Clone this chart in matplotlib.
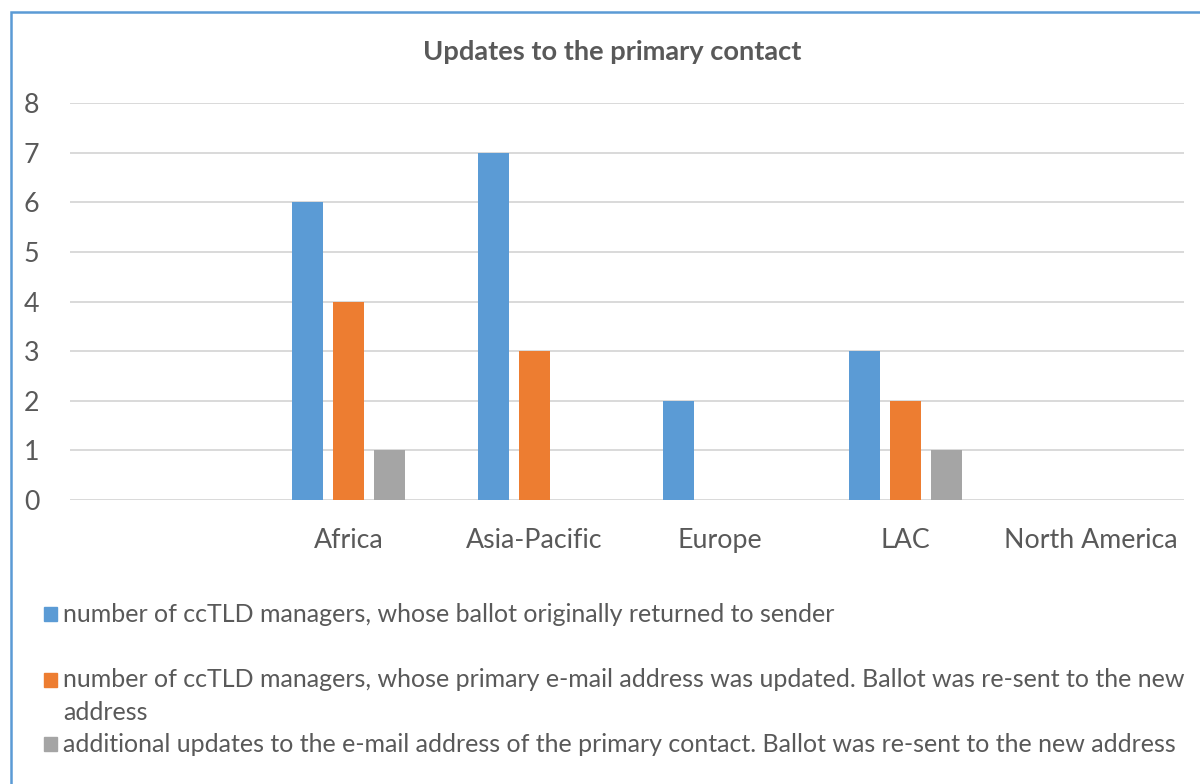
import matplotlib
matplotlib.use("Agg")
from matplotlib import pyplot as plt
from matplotlib.patches import Rectangle

plt.rcParams['font.family'] = ['Lato', 'DejaVu Sans']

regions = ["", "Africa", "Asia-Pacific", "Europe", "LAC", "North America"]
returned = [0, 6, 7, 2, 3, 0]
updated = [0, 4, 3, 0, 2, 0]
additional = [0, 1, 0, 0, 1, 0]

series_labels = [
    "number of ccTLD managers, whose ballot originally returned to sender",
    "number of ccTLD managers, whose primary e-mail address was updated. Ballot was re-sent to the new\naddress",
    "additional updates to the e-mail address of the primary contact. Ballot was re-sent to the new address",
]
colors = ["#5B9BD5", "#ED7D31", "#A5A5A5"]
text_color = "#595959"

fig = plt.figure(figsize=(12, 7.84), dpi=100)
ax = fig.add_axes([70 / 1200, 1 - 500 / 784, 1114 / 1200, 397 / 784])

# three bars per region, 0.167 wide, 0.22 apart
xs = range(len(regions))
width = 0.167
step = 0.22
for k, vals in enumerate([returned, updated, additional]):
    ax.bar([x + (k - 1) * step for x in xs], vals, width, color=colors[k], zorder=3)

ax.set_xlim(-0.5, len(regions) - 0.5)
ax.set_ylim(0, 8)
ax.set_yticks(range(9))
ax.set_xticks(list(xs))
ax.set_xticklabels(regions)
ax.yaxis.grid(True, color="#D9D9D9", lw=1.4, zorder=0)
ax.tick_params(length=0, labelsize=19.3, colors=text_color)
ax.tick_params(axis="y", pad=22)
ax.tick_params(axis="x", pad=20)
for s in ax.spines.values():
    s.set_visible(False)

fig.text(612 / 1200, 1 - 52 / 784, "Updates to the primary contact", ha="center", va="center",
         fontsize=19.6, fontweight="bold", color=text_color)

# legend, laid out by hand like the original
marker_y = [614, 680, 744]
baselines = [[622], [687, 720], [752]]
for k, lab in enumerate(series_labels):
    fig.patches.append(Rectangle((44 / 1200, 1 - (marker_y[k] + 7) / 784), 13 / 1200, 14 / 784,
                                 transform=fig.transFigure, color=colors[k]))
    for line, by in zip(lab.split("\n"), baselines[k]):
        fig.text(63 / 1200, 1 - by / 784, line, ha="left", va="baseline", fontsize=18,
                 color=text_color)

# chart border (top and left sides visible)
fig.patches.append(Rectangle((11 / 1200, -0.1), 1.2, 1.1 - 12 / 784, transform=fig.transFigure,
                             fill=False, edgecolor="#5B9BD5", lw=1.8))

fig.savefig("out.png", dpi=100)
